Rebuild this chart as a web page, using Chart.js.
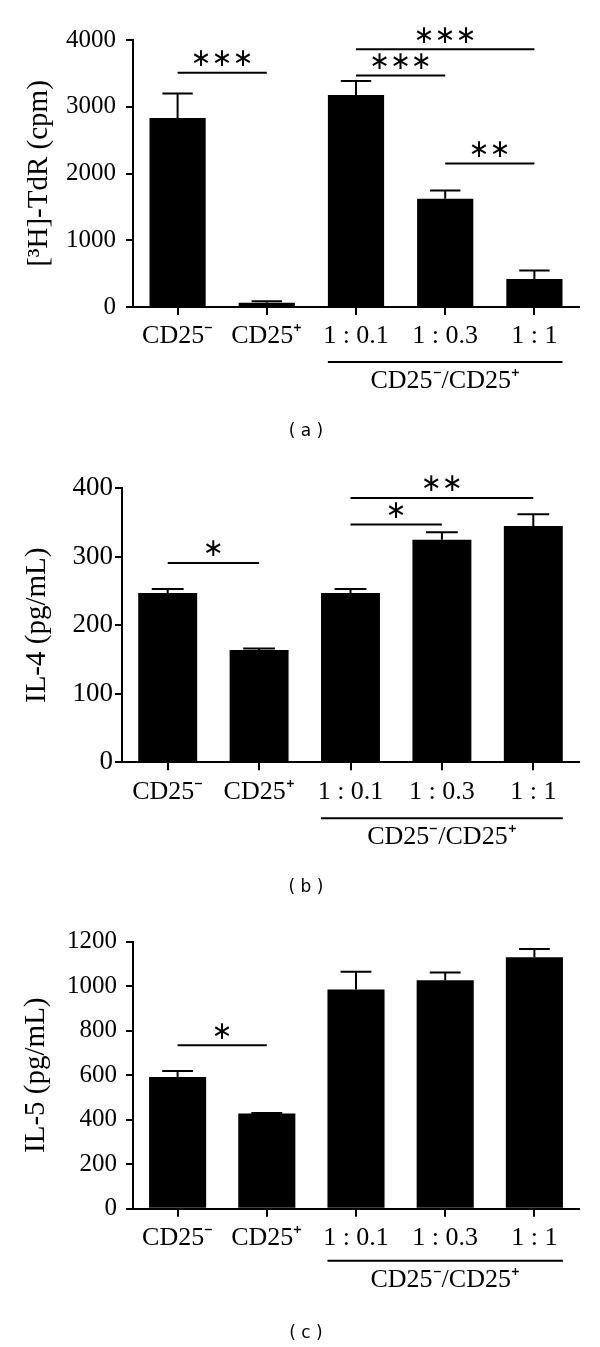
<!DOCTYPE html>
<html>
<head>
<meta charset="utf-8">
<script src="https://cdn.jsdelivr.net/npm/chart.js@4/dist/chart.umd.min.js"></script>
<style>
  body { margin: 0; background: #fff; width: 600px; height: 1347px; position: relative; overflow: hidden; }
  .panel { position: absolute; left: 0; width: 600px; }
</style>
</head>
<body>
<div class="panel" style="top:0;height:450px"><canvas id="chartA"></canvas></div>
<div class="panel" style="top:450px;height:450px"><canvas id="chartB"></canvas></div>
<div class="panel" style="top:900px;height:447px"><canvas id="chartC"></canvas></div>
<script>
// categories shared by all three panels
const categories = ["CD25⁻", "CD25⁺", "1 : 0.1", "1 : 0.3", "1 : 1"];
const groupLabel = "CD25⁻/CD25⁺";

// (a) proliferation
const tdrValues = [2830, 65, 3175, 1620, 420];
const tdrErrors = [370, 20, 210, 125, 125];
// [from, to, stars, level]
const tdrSig = [[0, 1, "∗∗∗", 3510], [2, 4, "∗∗∗", 3860], [2, 3, "∗∗∗", 3470], [3, 4, "∗∗", 2150]];

// (b) IL-4
const il4Values = [247, 164, 247, 325, 345];
const il4Errors = [6, 2, 6, 11, 17];
const il4Sig = [[0, 1, "∗", 291], [2, 4, "∗∗", 386], [2, 3, "∗", 347]];

// (c) IL-5
const il5Values = [592, 428, 985, 1027, 1130];
const il5Errors = [27, 2, 80, 35, 37];
const il5Sig = [[0, 1, "∗", 735]];

const serif = "'Liberation Serif', 'Times New Roman', serif";

// error bars, significance brackets, group line and caption
const annotate = {
  id: "annotate",
  afterDatasetsDraw(chart, args, opts) {
    const ctx = chart.ctx;
    const x = chart.scales.x;
    const y = chart.scales.y;
    const meta = chart.getDatasetMeta(0);
    const data = chart.data.datasets[0].data;
    ctx.save();
    ctx.strokeStyle = "#000";
    ctx.fillStyle = "#000";
    ctx.lineWidth = 2;

    opts.errors.forEach((e, i) => {
      const bar = meta.data[i];
      const y0 = y.getPixelForValue(data[i]);
      const y1 = y.getPixelForValue(data[i] + e);
      const cap = bar.width * 0.27;
      ctx.beginPath();
      ctx.moveTo(bar.x, y0);
      ctx.lineTo(bar.x, y1);
      ctx.moveTo(bar.x - cap, y1);
      ctx.lineTo(bar.x + cap, y1);
      ctx.stroke();
    });

    ctx.font = "25px 'DejaVu Sans'";
    ctx.textAlign = "center";
    ctx.textBaseline = "middle";
    opts.sig.forEach(([a, b, label, level]) => {
      const xa = x.getPixelForValue(a);
      const xb = x.getPixelForValue(b);
      const yl = y.getPixelForValue(level);
      ctx.beginPath();
      ctx.moveTo(xa, yl);
      ctx.lineTo(xb, yl);
      ctx.stroke();
      ctx.fillText(label, (xa + xb) / 2, yl - 13);
    });

    // group line under the three ratio bars
    const first = meta.data[2];
    const last = meta.data[4];
    const gy = chart.chartArea.bottom + opts.groupGap;
    ctx.beginPath();
    ctx.moveTo(first.x - first.width / 2, gy);
    ctx.lineTo(last.x + last.width / 2, gy);
    ctx.stroke();
    ctx.font = "26px " + serif;
    ctx.fillText(groupLabel, (first.x + last.x) / 2, gy + 19);

    ctx.font = "17px 'DejaVu Sans'";
    ctx.fillText(opts.caption, 306, chart.chartArea.bottom + 125);
    ctx.restore();
  }
};

function makePanel(id, values, errors, sig, p) {
  return new Chart(document.getElementById(id), {
    type: "bar",
    data: {
      labels: categories,
      datasets: [{
        data: values,
        backgroundColor: "#000",
        borderWidth: 0,
        barPercentage: p.barPct,
        categoryPercentage: 1
      }]
    },
    options: {
      responsive: true,
      maintainAspectRatio: false,
      animation: false,
      layout: { padding: { top: p.top, right: 21, left: 0, bottom: 0 } },
      plugins: {
        legend: { display: false },
        tooltip: { enabled: false },
        annotate: { errors: errors, sig: sig, caption: p.caption, groupGap: p.groupGap }
      },
      scales: {
        x: {
          grid: { drawOnChartArea: false, offset: false, tickLength: 8, color: "#000", lineWidth: 2 },
          border: { color: "#000", width: 2 },
          ticks: { color: "#000", font: { family: serif, size: 26 }, padding: 6, maxRotation: 0, autoSkip: false },
          afterFit: (s) => { s.height = p.xHeight; }
        },
        y: {
          min: 0,
          max: p.max,
          grid: { drawOnChartArea: false, tickLength: 7, color: "#000", lineWidth: 2 },
          border: { color: "#000", width: 2 },
          ticks: {
            stepSize: p.step, color: "#000", font: { family: serif, size: p.tickSize }, padding: p.tickPad,
            callback: (v) => String(v)
          },
          title: { display: true, text: p.title, color: "#000", font: { family: serif, size: 29 }, padding: { top: p.titlePad, bottom: 0 } },
          afterFit: (s) => { s.width = p.left; }
        }
      }
    },
    plugins: [annotate]
  });
}

makePanel("chartA", tdrValues, tdrErrors, tdrSig, {
  top: 40, xHeight: 143, left: 133, max: 4000, step: 1000, tickSize: 25, tickPad: 10,
  title: "[³H]-TdR (cpm)", titlePad: 22, barPct: 0.63, caption: "( a )", groupGap: 55
});
makePanel("chartB", il4Values, il4Errors, il4Sig, {
  top: 38.3, xHeight: 137.7, left: 122, max: 400, step: 100, tickSize: 27, tickPad: 2,
  title: "IL-4 (pg/mL)", titlePad: 20, barPct: 0.645, caption: "( b )", groupGap: 56
});
makePanel("chartC", il5Values, il5Errors, il5Sig, {
  top: 41.7, xHeight: 138.3, left: 133, max: 1200, step: 200, tickSize: 25, tickPad: 9,
  title: "IL-5 (pg/mL)", titlePad: 19, barPct: 0.64, caption: "( c )", groupGap: 52
});
</script>
</body>
</html>
